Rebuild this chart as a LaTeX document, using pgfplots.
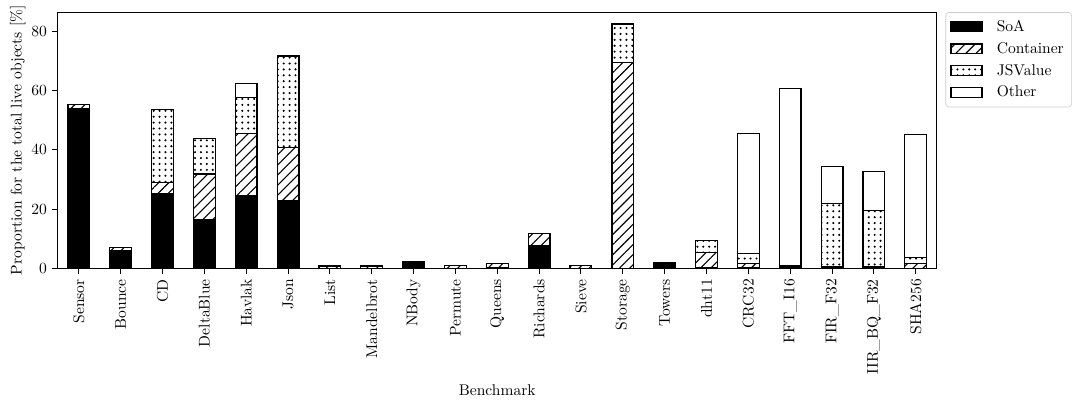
\documentclass[border=0pt]{standalone}
\usepackage{pgfplots}
\pgfplotsset{compat=1.18}
\usetikzlibrary{patterns.meta}

\pgfplotstableread{
x SoA Container JSValue Other
0  54.0 1.2 0.0 0.0
1  5.8 1.1 0.0 0.0
2  25.1 3.9 24.7 0.0
3  16.5 15.3 12.0 0.0
4  24.4 21.1 12.2 4.8
5  22.9 17.9 30.6 0.3
6  0.0 0.8 0.0 0.0
7  0.0 0.8 0.0 0.0
8  1.6 0.5 0.0 0.0
9  0.0 0.9 0.0 0.0
10 0.2 1.4 0.0 0.0
11 7.8 3.9 0.0 0.0
12 0.0 0.9 0.0 0.0
13 0.0 69.6 12.9 0.0
14 1.3 0.5 0.0 0.0
15 0.2 5.1 4.2 0.0
16 0.3 1.2 3.4 40.7
17 0.1 0.3 0.4 59.8
18 0.5 0.0 21.4 12.5
19 0.5 0.0 18.9 13.3
20 0.0 1.6 2.0 41.5
}\datatable

\begin{document}
\begin{tikzpicture}
\begin{axis}[
  width=565pt, height=164.7pt, scale only axis,
  ybar stacked, bar width=0.52,
  xmin=-0.5, xmax=20.5, ymin=0, ymax=86.5,
  xtick={0,...,20},
  xticklabels={Sensor,Bounce,CD,DeltaBlue,Havlak,Json,List,Mandelbrot,NBody,Permute,Queens,Richards,Sieve,Storage,Towers,dht11,CRC32,FFT\_I16,FIR\_F32,IIR\_BQ\_F32,SHA256},
  x tick label style={rotate=90, anchor=east},
  ytick={0,20,40,60,80},
  tick align=outside, xtick pos=bottom, ytick pos=left,
  major tick length=3.5pt,
  xlabel={Benchmark}, ylabel={Proportion for the total live objects [\%]},
  ylabel shift=-3pt,
  axis line style={line width=0.6pt},
  every tick/.style={black, line width=0.6pt},
  legend style={at={(1.01,1)}, anchor=north west, draw=black!20, rounded corners=2pt, font=\normalsize, row sep=1.5pt, inner sep=3pt, cells={anchor=west}},
  legend image code/.code={\draw[#1, line width=0.8pt, sharp corners] (0cm,-0.11cm) rectangle (0.7cm,0.11cm); \path (0.95cm,0);},
]
\addplot+[draw=black, line width=0.8pt, fill=black] table[x=x, y=SoA] {\datatable};
\addplot+[draw=black, line width=0.8pt, fill=white, pattern={Lines[angle=45, distance=4.6pt, line width=0.7pt]}, pattern color=black] table[x=x, y=Container] {\datatable};
\addplot+[draw=black, line width=0.8pt, fill=white, pattern={Dots[distance=3.8pt, radius=0.75pt]}, pattern color=black] table[x=x, y=JSValue] {\datatable};
\addplot+[draw=black, line width=0.8pt, fill=white] table[x=x, y=Other] {\datatable};
\legend{SoA, Container, JSValue, Other}
\end{axis}
\path ([shift={(-3pt,-7pt)}]current bounding box.south west) ([shift={(2pt,0pt)}]current bounding box.north east);
\end{tikzpicture}
\end{document}
